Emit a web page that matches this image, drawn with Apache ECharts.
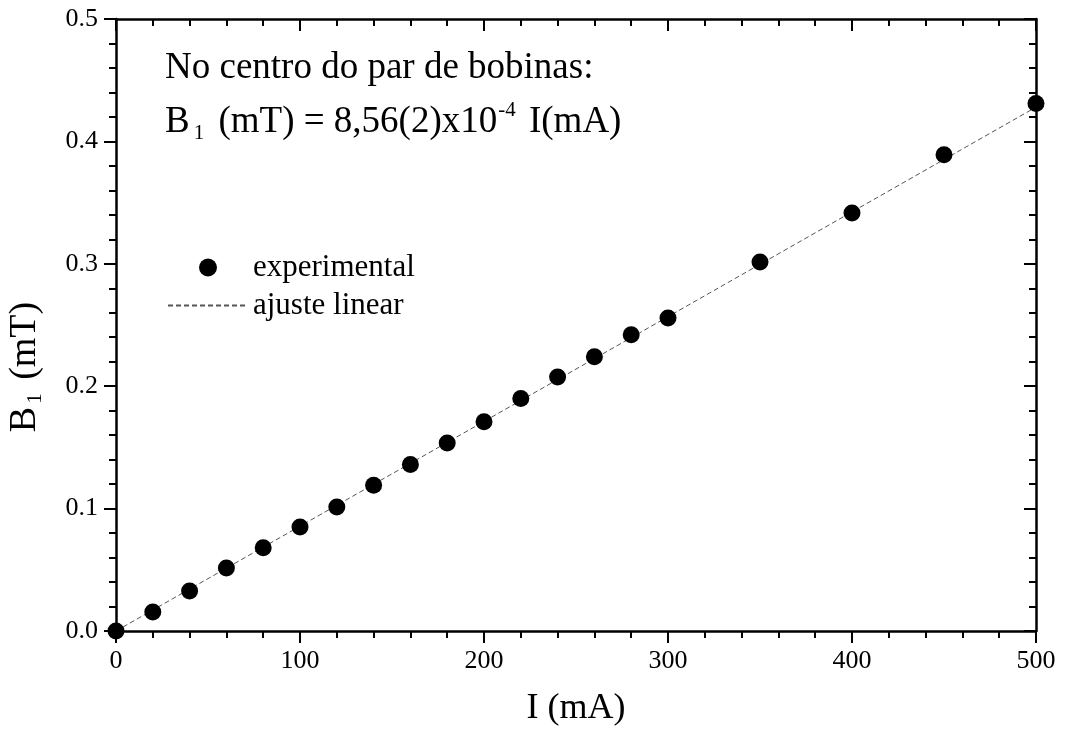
<!DOCTYPE html>
<html>
<head>
<meta charset="utf-8">
<script src="https://cdn.jsdelivr.net/npm/echarts@6/dist/echarts.min.js"></script>
<style>
html,body{margin:0;padding:0;background:#fff;}
#chart{width:1067px;height:733px;}
</style>
</head>
<body>
<div id="chart"></div>
<script>
// ---- data ----
const currentMA = [0, 20, 40, 60, 80, 100, 120, 140, 160, 180, 200, 220, 240, 260, 280, 300, 350, 400, 450, 500];
const fieldMT   = [0.000, 0.0155, 0.0327, 0.0515, 0.068, 0.085, 0.1013, 0.119, 0.136, 0.1536, 0.171, 0.190, 0.2075, 0.224, 0.242, 0.2557, 0.3015, 0.3415, 0.389, 0.431];
const fitI = [0, 500];
const fitB = [0, 0.428];
const xTicks = [0, 100, 200, 300, 400, 500];
const yTicks = [0.0, 0.1, 0.2, 0.3, 0.4, 0.5];
const seriesNames = ['experimental', 'ajuste linear'];
const annotationLine1 = 'No centro do par de bobinas:';

const FONT = '"Liberation Serif", "Times New Roman", serif';
const chart = echarts.init(document.getElementById('chart'));

function axisCommon(pos, showLabels, inside) {
  return {
    type: 'value',
    position: pos,
    axisLine: { show: true, onZero: false, lineStyle: { color: '#000', width: 2.5 } },
    axisTick: { show: true, inside: inside, length: 12, lineStyle: { color: '#000', width: 2 } },
    minorTick: { show: true, splitNumber: 5, length: 7, lineStyle: { color: '#000', width: 2 } },
    splitLine: { show: false },
    minorSplitLine: { show: false },
    axisLabel: { show: showLabels, color: '#000', fontFamily: FONT, fontSize: 26 }
  };
}

const xB = Object.assign(axisCommon('bottom', true, false), {
  min: xTicks[0], max: xTicks[xTicks.length - 1], interval: xTicks[1] - xTicks[0],
  name: 'I (mA)', nameLocation: 'middle', nameGap: 60,
  nameTextStyle: { color: '#000', fontFamily: FONT, fontSize: 36 }
});
xB.axisLabel.margin = 17;
const xT = Object.assign(axisCommon('top', false, true), {
  min: xTicks[0], max: xTicks[xTicks.length - 1], interval: xTicks[1] - xTicks[0]
});
const yL = Object.assign(axisCommon('left', true, false), {
  min: yTicks[0], max: yTicks[yTicks.length - 1], interval: 0.1,
  name: '{b|B}{s|1}{b| (mT)}', nameLocation: 'middle', nameGap: 70, nameRotate: 90,
  nameTextStyle: {
    color: '#000', fontFamily: FONT, fontSize: 38,
    padding: [0, 84, 0, 0],
    rich: {
      b: { fontFamily: FONT, fontSize: 38, color: '#000', lineHeight: 42, verticalAlign: 'middle' },
      s: { fontFamily: FONT, fontSize: 21, color: '#000', lineHeight: 42, verticalAlign: 'bottom', padding: [0, 4, 0, 3] }
    }
  }
});
yL.axisLabel.margin = 18;
yL.axisLabel.formatter = v => v.toFixed(1);
const yR = Object.assign(axisCommon('right', false, true), {
  min: yTicks[0], max: yTicks[yTicks.length - 1], interval: 0.1
});

chart.setOption({
  animation: false,
  backgroundColor: '#fff',
  grid: { left: 116, right: 31, top: 19, bottom: 102, containLabel: false, outerBoundsMode: 'none' },
  xAxis: [xB, xT],
  yAxis: [yL, yR],
  legend: {
    orient: 'vertical', left: 162, top: 247,
    itemWidth: 80, itemHeight: 18, itemGap: 7,
    textStyle: { color: '#000', fontFamily: FONT, fontSize: 31 },
    data: [
      { name: seriesNames[0], icon: 'circle' },
      { name: seriesNames[1], icon: 'inherit', itemStyle: { color: 'rgba(0,0,0,0)', borderColor: 'rgba(0,0,0,0)', borderWidth: 0 } }
    ]
  },
  graphic: [
    {
      type: 'text', left: 165, top: 50,
      style: { text: annotationLine1, fill: '#000', font: '37px ' + FONT }
    },
    {
      type: 'text', left: 165, top: 100,
      style: {
        text: '{b|B}{s|1}{b| (mT) = 8,56(2)x10}{p|-4}{b| I(mA)}',
        rich: {
          b: { fontFamily: FONT, fontSize: 37, fill: '#000', lineHeight: 44, verticalAlign: 'middle' },
          s: { fontFamily: FONT, fontSize: 21, fill: '#000', lineHeight: 44, verticalAlign: 'bottom', padding: [0, 5, 0, 4] },
          p: { fontFamily: FONT, fontSize: 21, fill: '#000', lineHeight: 44, verticalAlign: 'top', padding: [0, 4, 0, 1] }
        }
      }
    }
  ],
  series: [
    {
      name: seriesNames[1], type: 'line', xAxisIndex: 0, yAxisIndex: 0,
      data: fitI.map((x, i) => [x, fitB[i]]),
      showSymbol: false, symbol: 'none',
      itemStyle: { color: '#555' },
      lineStyle: { color: '#555', width: 1, type: [5, 3] },
      z: 2
    },
    {
      name: seriesNames[0], type: 'scatter', xAxisIndex: 0, yAxisIndex: 0,
      data: currentMA.map((x, i) => [x, fieldMT[i]]),
      symbol: 'circle', symbolSize: 17,
      itemStyle: { color: '#000', opacity: 1 },
      clip: false, z: 3
    }
  ]
});
</script>
</body>
</html>
